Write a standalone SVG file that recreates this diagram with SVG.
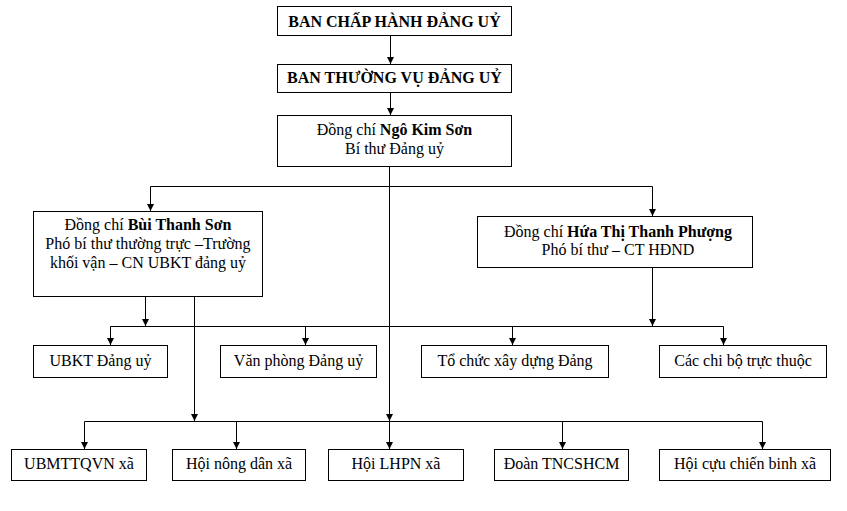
<svg xmlns="http://www.w3.org/2000/svg" width="847" height="511" viewBox="0 0 847 511">
<defs>
<marker id="ar" markerWidth="8" markerHeight="8" refX="7" refY="3.5" orient="auto" markerUnits="userSpaceOnUse">
<path d="M0,0 L7,3.5 L0,7 z" fill="#000"/>
</marker>
<style>
rect{fill:#fff;stroke:#000;stroke-width:1}
text{font-family:"Liberation Serif","Times New Roman",serif;font-size:16px;fill:#000;text-anchor:middle}
.b{font-weight:bold}
#connectors path{fill:none;stroke:#000;stroke-width:1}
.a{marker-end:url(#ar)}
</style>
</defs>
<rect x="0" y="0" width="847" height="511" style="fill:#fff;stroke:none"/>
<g id="connectors">
<path class="a" d="M390.5,35 V64"/>
<path class="a" d="M390.5,92 V115"/>
<path class="a" d="M389.5,166 V421"/>
<path class="a" d="M389.5,421 V449"/>
<path d="M150.5,186.5 H652.5"/>
<path class="a" d="M150.5,186.5 V211"/>
<path class="a" d="M652.5,186.5 V216"/>
<path class="a" d="M145.5,296 V326"/>
<path class="a" d="M652.5,267 V326"/>
<path d="M110.5,326.5 H723.5"/>
<path class="a" d="M110.5,326.5 V345"/>
<path class="a" d="M305.5,326.5 V345"/>
<path class="a" d="M512.5,326.5 V345"/>
<path class="a" d="M723.5,326.5 V345"/>
<path class="a" d="M194.5,296 V421"/>
<path d="M84.5,421.5 H762.5"/>
<path class="a" d="M84.5,421.5 V449"/>
<path class="a" d="M236.5,421.5 V449"/>
<path class="a" d="M562.5,421.5 V449"/>
<path class="a" d="M762.5,421.5 V449"/>
</g>
<g id="n1"><rect x="277.5" y="6.5" width="234" height="29"/><text class="b" x="394.5" y="27">BAN CHẤP HÀNH ĐẢNG UỶ</text></g>
<g id="n2"><rect x="277.5" y="64.5" width="234" height="28"/><text class="b" x="394.5" y="83">BAN THƯỜNG VỤ ĐẢNG UỶ</text></g>
<g id="n3"><rect x="277.5" y="115.5" width="234" height="51"/><text x="394.5" y="135">Đồng chí <tspan class="b">Ngô Kim Sơn</tspan></text><text x="394.5" y="154">Bí thư Đảng uỷ</text></g>
<g id="n4"><rect x="33.5" y="211.5" width="229" height="85"/><text x="148" y="230">Đồng chí <tspan class="b">Bùi Thanh Sơn</tspan></text><text x="148" y="249">Phó bí thư thường trực –Trường</text><text x="148" y="268">khối vận – CN UBKT đảng uỷ</text></g>
<g id="n5"><rect x="477.5" y="216.5" width="275" height="51"/><text x="618" y="237">Đồng chí <tspan class="b">Hứa Thị Thanh Phượng</tspan></text><text x="618" y="255">Phó bí thư – CT HĐND</text></g>
<g id="m1"><rect x="33.5" y="345.5" width="134" height="32"/><text x="100.5" y="366">UBKT Đảng uỷ</text></g>
<g id="m2"><rect x="220.5" y="345.5" width="156" height="32"/><text x="298.5" y="366">Văn phòng Đảng uỷ</text></g>
<g id="m3"><rect x="421.5" y="345.5" width="187" height="32"/><text x="515" y="366">Tổ chức xây dựng Đảng</text></g>
<g id="m4"><rect x="659.5" y="345.5" width="167" height="32"/><text x="743" y="366">Các chi bộ trực thuộc</text></g>
<g id="b1"><rect x="11.5" y="449.5" width="135" height="31"/><text x="79" y="469">UBMTTQVN xã</text></g>
<g id="b2"><rect x="172.5" y="449.5" width="133" height="31"/><text x="239" y="469">Hội nông dân xã</text></g>
<g id="b3"><rect x="328.5" y="449.5" width="135" height="31"/><text x="396" y="469">Hội LHPN xã</text></g>
<g id="b4"><rect x="494.5" y="449.5" width="134" height="31"/><text x="561.5" y="469">Đoàn TNCSHCM</text></g>
<g id="b5"><rect x="659.5" y="449.5" width="171" height="31"/><text x="745" y="469">Hội cựu chiến binh xã</text></g>
</svg>
